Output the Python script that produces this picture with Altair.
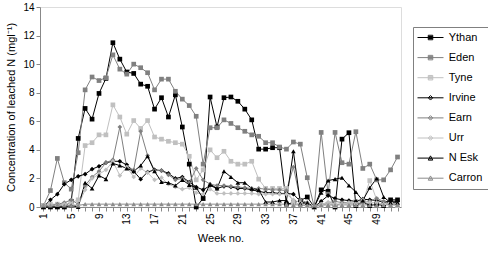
import altair as alt
import pandas as pd

# Weekly leached-N concentrations for eight catchments
weeks = list(range(1, 53))
series_names = ["Ythan", "Eden", "Tyne", "Irvine", "Earn", "Urr", "N Esk", "Carron"]

ythan = [0.0, 0.0, 0.0, 0.0, 0.4, 4.8, 6.9, 6.15, 7.95, 9.0, 11.5, 10.35, 9.45, 9.35, 8.6, 8.45,
         6.85, 7.65, 6.3, 7.85, 5.6, 3.0, 0.0, 0.6, 7.7, 5.6, 7.65, 7.7, 7.4, 6.85, 6.1, 4.05,
         4.05, 4.15, 4.15, 0.2, 0.3, 0.45, 0.7, 0.0, 1.2, 1.1, 0.0, 4.75, 5.2, 0.1, 0.35, 0.1,
         0.2, 0.1, 0.5, 0.5]
eden = [0.1, 1.15, 3.4, 1.7, 1.25, 3.8, 8.2, 9.1, 8.85, 9.05, 10.65, 9.65, 9.3, 10.0, 9.75, 9.4,
        8.2, 8.95, 8.95, 8.1, 7.55, 7.1, 6.35, 3.0, 5.55, 5.55, 6.1, 5.85, 5.55, 5.3, 5.05, 4.95,
        4.5, 4.5, 4.2, 4.05, 4.55, 4.4, 2.05, 0.0, 5.22, 0.9, 5.22, 3.1, 3.0, 5.27, 2.7, 3.0,
        1.9, 1.9, 2.6, 3.5]
tyne = [0.1, 0.2, 0.2, 0.2, 0.3, 0.5, 4.3, 4.5, 5.05, 5.05, 7.15, 6.3, 5.1, 6.05, 5.5, 6.05,
        4.9, 4.75, 4.6, 4.5, 4.4, 3.55, 1.9, 2.6, 4.0, 3.45, 3.9, 3.2, 3.0, 3.0, 3.2, 1.95,
        1.3, 1.3, 1.3, 1.3, 0.3, 0.2, 0.1, 0.0, 0.1, 0.2, 0.1, 0.3, 0.2, 0.4, 0.3, 1.85,
        0.5, 0.3, 0.2, 0.1]
irvine = [0.0, 0.5, 0.9, 1.6, 1.9, 2.15, 2.3, 2.65, 2.85, 3.1, 3.2, 3.2, 2.95, 2.5, 1.95, 2.45,
          2.6, 2.55, 2.35, 2.0, 2.1, 1.75, 1.4, 1.2, 1.5, 1.3, 1.45, 1.4, 1.3, 1.3, 1.2, 1.1,
          1.0, 1.0, 0.95, 0.95, 0.9, 0.4, 0.2, 0.0, 0.4, 0.8, 0.6, 0.5, 0.45, 0.4, 0.55, 0.5,
          0.45, 0.35, 0.4, 0.4]
earn = [0.1, 0.1, 0.2, 0.3, 0.5, 0.2, 1.5, 2.1, 2.5, 3.1, 3.3, 5.6, 2.75, 2.6, 5.3, 3.6,
        2.55, 2.55, 2.25, 1.9, 2.0, 1.7, 2.7, 1.9, 1.6, 1.5, 1.5, 1.45, 1.4, 1.35, 1.3, 1.3,
        1.25, 1.2, 1.2, 1.15, 2.8, 0.5, 0.3, 0.0, 0.2, 0.3, 0.4, 0.3, 0.3, 0.2, 0.3, 0.4,
        0.6, 0.4, 0.2, 0.2]
urr = [0.05, 0.1, 0.1, 0.2, 0.2, 0.1, 1.2, 2.0, 2.3, 2.6, 3.2, 2.2, 2.8, 2.1, 2.7, 2.4,
       1.9, 2.05, 1.6, 1.4, 1.25, 1.35, 1.0, 0.9, 1.25, 0.95, 0.95, 0.95, 0.95, 0.95, 0.95, 0.9,
       0.9, 0.9, 0.9, 0.9, 0.5, 0.3, 0.2, 0.0, 0.2, 0.3, 0.2, 0.2, 0.3, 0.2, 0.5, 0.3,
       0.3, 0.2, 0.2, 0.2]
n_esk = [0.0, 0.0, 0.0, 0.0, 0.1, 0.0, 1.7, 1.3, 2.2, 1.95, 3.05, 2.9, 2.7, 2.5, 2.9, 3.55,
         2.5, 1.75, 1.7, 1.5, 1.9, 1.55, 1.35, 0.6, 1.6, 1.3, 2.5, 2.1, 1.7, 1.7, 1.3, 1.2,
         0.35, 0.35, 0.45, 0.45, 3.9, 0.25, 0.3, 0.0, 1.0, 1.85, 1.95, 2.05, 1.5, 1.05, 0.45, 1.35,
         2.0, 0.7, 0.3, 0.3]
carron = [0.1, 0.1, 0.15, 0.1, 0.1, 0.1, 0.2, 0.2, 0.2, 0.2, 0.2, 0.2, 0.2, 0.2, 0.2, 0.2,
          0.2, 0.2, 0.2, 0.2, 0.2, 0.2, 0.2, 0.2, 0.2, 0.2, 0.2, 0.2, 0.2, 0.2, 0.2, 0.2,
          0.2, 0.2, 0.2, 0.2, 0.15, 0.15, 0.1, 0.1, 0.15, 0.15, 0.15, 0.15, 0.15, 0.15, 0.15, 0.15,
          0.15, 0.15, 0.15, 0.15]

series_values = [ythan, eden, tyne, irvine, earn, urr, n_esk, carron]
series_colors = ["#000000", "#808080", "#c0c0c0", "#000000", "#808080", "#c0c0c0", "#000000", "#8c8c8c"]
marker_shapes = ["square", "square", "square", "diamond", "diamond", "diamond",
                 "triangle-up", "triangle-up"]

# legend glyphs: a short line with the series marker in the middle
_line = "M-2.6,0H2.6"
_sq = "M-0.45,-0.45H0.45V0.45H-0.45ZM-0.45,-0.2H0.45M-0.45,0H0.45M-0.45,0.2H0.45"
_di = "M0,-0.45L0.45,0L0,0.45L-0.45,0ZM-0.22,0H0.22"
_tr = "M0,-0.45L0.45,0.4H-0.45ZM-0.2,0.15H0.2"
legend_paths = [_line + _sq] * 3 + [_line + _di] * 3 + [_line + _tr] * 2

rows = []
for name, vals in zip(series_names, series_values):
    for w, v in zip(weeks, vals):
        rows.append({"series": name, "week": w, "value": v})
df = pd.DataFrame(rows)

FONT = "Liberation Sans"
AXIS_GREY = "#808080"

x_enc = alt.X(
    "week:Q",
    scale=alt.Scale(domain=[0.5, 52.5], nice=False, zero=False),
    axis=alt.Axis(
        values=weeks,
        labelExpr="(datum.value - 1) % 4 == 0 ? datum.label : ''",
        labelAngle=270,
        labelOverlap=False,
        labelFlush=False,
        tickSize=4,
        grid=False,
        title="Week no.",
        titlePadding=8,
        titleFontWeight="normal",
    ),
)
y_enc = alt.Y(
    "value:Q",
    scale=alt.Scale(domain=[0, 14], nice=False),
    axis=alt.Axis(
        values=[0, 2, 4, 6, 8, 10, 12, 14],
        tickSize=4,
        grid=False,
        title="Concentration of leached N (mgl⁻¹)",
        titlePadding=6,
        titleFontWeight="normal",
    ),
)
color_scale = alt.Scale(domain=series_names, range=series_colors)

lines = alt.Chart(df).mark_line(strokeWidth=1).encode(
    x=x_enc,
    y=y_enc,
    color=alt.Color("series:N", scale=color_scale, legend=None),
    detail="series:N",
)

points = alt.Chart(df).mark_point(filled=True, size=22, opacity=1).encode(
    x=x_enc,
    y=y_enc,
    color=alt.Color("series:N", scale=color_scale, legend=None),
    shape=alt.Shape("series:N", scale=alt.Scale(domain=series_names, range=marker_shapes), legend=None),
)

series_legend = alt.Legend(
    title=None,
    orient="none",
    legendX=373,
    legendY=20,
    padding=5,
    strokeColor="#808080",
    symbolSize=100,
    symbolOffset=7,
    symbolStrokeWidth=1,
    symbolOpacity=1,
    labelOffset=12.7,
    labelFontSize=11,
    labelFont=FONT,
    labelColor="#000000",
    labelExpr="datum.label + '\u00a0\u00a0'",
    rowPadding=8.1,
)

legend_layer = alt.Chart(df).transform_filter("false").mark_point(filled=False, strokeWidth=1).encode(
    color=alt.Color("series:N", scale=color_scale, legend=series_legend),
    shape=alt.Shape(
        "series:N",
        scale=alt.Scale(domain=series_names, range=legend_paths),
        legend=series_legend,
    ),
)

chart = (
    alt.layer(lines, points, legend_layer)
    .resolve_scale(shape="independent", color="independent")
    .properties(
        width=361,
        height=200,
        autosize=alt.AutoSizeParams(type="none"),
        padding={"left": 40, "top": 7, "right": 87, "bottom": 46},
    )
    .configure_view(stroke=AXIS_GREY, strokeWidth=1)
    .configure_axis(
        labelFont=FONT,
        titleFont=FONT,
        labelFontSize=10,
        titleFontSize=11,
        titleFontWeight="normal",
        labelColor="#000000",
        titleColor="#000000",
        domainColor=AXIS_GREY,
        tickColor=AXIS_GREY,
        labelPadding=3,
    )
    .configure(background="white")
)

chart.save("out.html", embed_options={"renderer": "svg", "actions": False})
